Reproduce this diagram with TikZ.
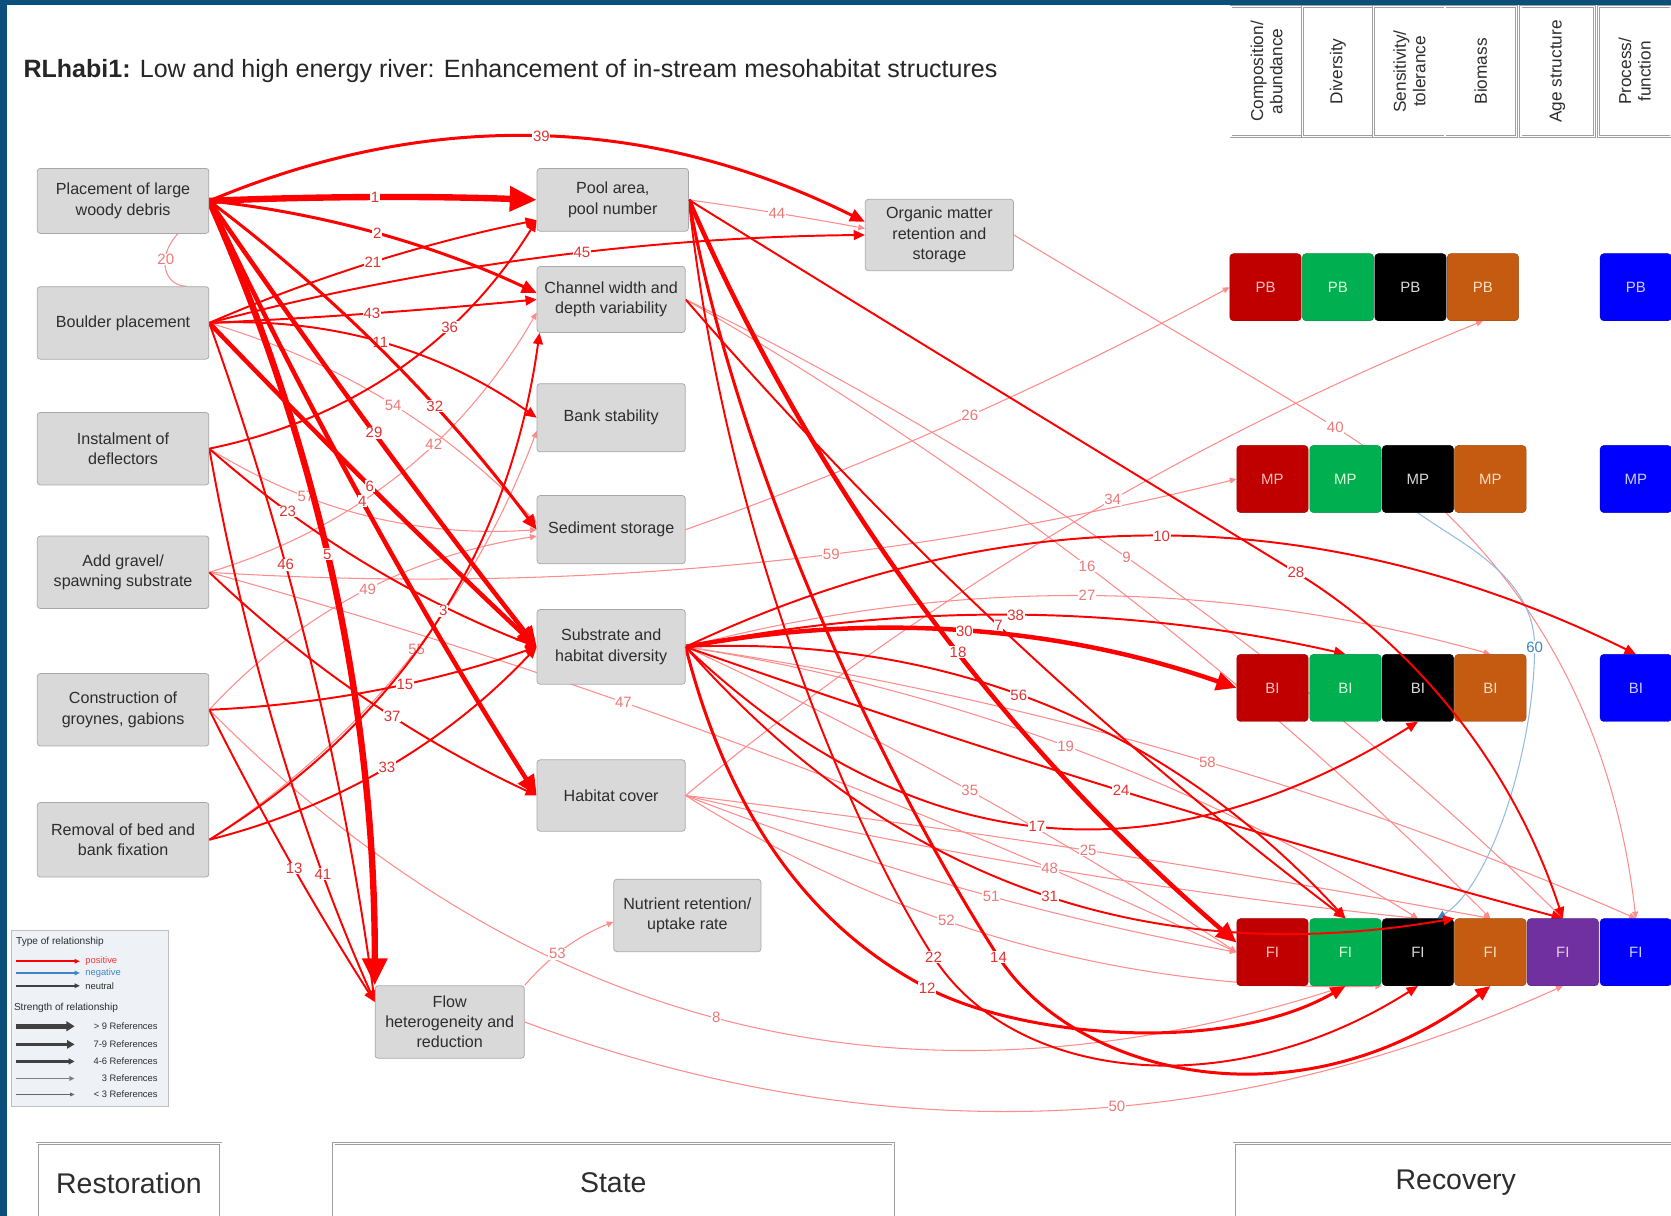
\documentclass[tikz,border=0pt]{standalone}
\usepackage{fontspec}
\setmainfont{Liberation Sans}
\usetikzlibrary{arrows.meta,calc}
\pgfdeclarelayer{bg}
\pgfsetlayers{bg,main}
\definecolor{frameblue}{RGB}{11,79,124}
\definecolor{boxfill}{RGB}{217,217,217}
\definecolor{boxline}{RGB}{168,168,168}
\definecolor{txt}{RGB}{45,45,45}
\definecolor{labred}{RGB}{225,50,50}
\definecolor{labpale}{RGB}{236,120,120}
\definecolor{cR}{RGB}{192,0,0}
\definecolor{cG}{RGB}{0,176,80}
\definecolor{cK}{RGB}{0,0,0}
\definecolor{cO}{RGB}{197,90,17}
\definecolor{cP}{RGB}{112,48,160}
\definecolor{cB}{RGB}{0,0,255}
\definecolor{negblue}{RGB}{61,133,198}
\definecolor{legbg}{RGB}{238,242,247}
\tikzset{
 gbox/.style={draw=boxline, fill=boxfill, rounded corners=4pt, line width=1pt, text=txt, align=center, font=\fontsize{21.5}{27}\selectfont, inner sep=0pt},
 rec/.style 2 args={fill=#1, draw=#1!80!black, line width=0.6pt, rounded corners=5pt, minimum width=3.35cm, minimum height=3.15cm, inner sep=0pt, text=#2, font=\fontsize{20}{20}\selectfont},
 hdr/.style={draw=gray!75, double=white, double distance=2pt, line width=0.7pt, minimum height=6.1cm, inner sep=0pt},
 hdrtext/.style={rotate=90, align=center, text=txt, font=\fontsize{23}{26}\selectfont},
 lab/.style={fill=white, inner sep=0.8pt, font=\fontsize{20}{20}\selectfont},
 e1/.style={draw=red!45, text=labpale, line width=1.4pt, -{Triangle[length=9pt,width=8pt]}},
 e2/.style={draw=red, text=labred, line width=2.6pt, -{Triangle[length=15pt,width=13pt]}},
 e3/.style={draw=red, text=labred, line width=4pt, -{Triangle[length=20pt,width=17pt]}},
 e4/.style={draw=red, text=labred, line width=6pt, -{Triangle[length=27pt,width=24pt]}},
 e5/.style={draw=red, text=labred, line width=8.5pt, -{Triangle[length=36pt,width=32pt]}},
 eneg/.style={draw=negblue!55, text=negblue, line width=1.4pt, -{Triangle[length=11pt,width=10pt,fill=negblue,color=negblue]}},
 legt/.style={text=txt, font=\fontsize{13.5}{15}\selectfont, inner sep=0pt},
 legi/.style={text=txt, font=\fontsize{12.5}{14}\selectfont, inner sep=0pt},
 big/.style={text=txt, font=\fontsize{38}{40}\selectfont},
 bbox/.style={draw=gray!75, double=white, double distance=2.5pt, line width=0.8pt}
}
% quadratic connector through a label point (as a cubic)
\newcommand\myedge[5]{%
 \path #2; \pgfgetlastxy{\edSx}{\edSy}%
 \path #3; \pgfgetlastxy{\edTx}{\edTy}%
 \path #4; \pgfgetlastxy{\edLx}{\edLy}%
 \pgfmathsetmacro\edax{\edSx/100}\pgfmathsetmacro\eday{\edSy/100}%
 \pgfmathsetmacro\edbx{\edTx/100}\pgfmathsetmacro\edby{\edTy/100}%
 \pgfmathsetmacro\edcx{\edLx/100}\pgfmathsetmacro\edcy{\edLy/100}%
 \pgfmathsetmacro\eddx{\edbx-\edax}\pgfmathsetmacro\eddy{\edby-\eday}%
 \pgfmathsetmacro\edt{((\edcx-\edax)*\eddx+(\edcy-\eday)*\eddy)/(\eddx*\eddx+\eddy*\eddy)}%
 \pgfmathsetmacro\edt{min(max(\edt,0.25),0.75)}%
 \pgfmathsetmacro\edu{1-\edt}%
 \pgfmathsetmacro\edQx{(\edcx-\edu*\edu*\edax-\edt*\edt*\edbx)/(2*\edt*\edu)}%
 \pgfmathsetmacro\edQy{(\edcy-\edu*\edu*\eday-\edt*\edt*\edby)/(2*\edt*\edu)}%
 \pgfmathsetmacro\edPx{100*(\edax+2*(\edQx-\edax)/3)}%
 \pgfmathsetmacro\edPy{100*(\eday+2*(\edQy-\eday)/3)}%
 \pgfmathsetmacro\edRx{100*(\edbx+2*(\edQx-\edbx)/3)}%
 \pgfmathsetmacro\edRy{100*(\edby+2*(\edQy-\edby)/3)}%
 \draw[#1] #2 .. controls (\edPx pt,\edPy pt) and (\edRx pt,\edRy pt) .. #3 node[lab,pos=\edt]{#5};%
}
\begin{document}
\begin{tikzpicture}[x=0.05cm,y=-0.05cm]
\path[use as bounding box] (0,0) rectangle (1568,1141);
\begin{pgfonlayer}{bg}
\fill[white] (0,0) rectangle (1568,1141);
\end{pgfonlayer}
\clip (0,0) rectangle (1568,1141);

% title
\node[anchor=west, inner sep=0pt, text=black!85, font=\fontsize{33.4}{37}\selectfont] (title) at (22,67) {\textbf{RLhabi1:} Low and high energy river: Enhancement of in-stream mesohabitat structures};

% header cells
\node[hdr, minimum width=3.35cm] (h1) at (1188.5,67) {};
\node[hdr, minimum width=3.35cm] (h2) at (1255.5,67) {};
\node[hdr, minimum width=3.35cm] (h3) at (1322.5,67) {};
\node[hdr, minimum width=3.35cm] (h4) at (1389.5,67) {};
\node[hdr, minimum width=3.45cm] (h5) at (1461.5,67) {};
\node[hdr, minimum width=3.4cm] (h6) at (1534,67) {};
\node[hdrtext] at (h1) {Composition/\\abundance};
\node[hdrtext] at (h2) {Diversity};
\node[hdrtext] at (h3) {Sensitivity/\\tolerance};
\node[hdrtext] at (h4) {Biomass};
\node[hdrtext] at (h5) {Age structure};
\node[hdrtext] at (h6) {Process/\\function};

% restoration nodes
\node[gbox, minimum width=8.05cm, minimum height=3.05cm] (lwd) at (115.5,188.5) {Placement of large\\woody debris};
\node[gbox, minimum width=8.05cm, minimum height=3.4cm] (boul) at (115.5,303) {Boulder placement};
\node[gbox, minimum width=8.05cm, minimum height=3.4cm] (inst) at (115.5,421) {Instalment of\\deflectors};
\node[gbox, minimum width=8.05cm, minimum height=3.4cm] (grav) at (115.5,537) {Add gravel/\\spawning substrate};
\node[gbox, minimum width=8.05cm, minimum height=3.4cm] (groy) at (115.5,666) {Construction of\\groynes, gabions};
\node[gbox, minimum width=8.05cm, minimum height=3.5cm] (remv) at (115.5,788) {Removal of bed and\\bank fixation};

% state nodes
\node[gbox, minimum width=7.1cm, minimum height=2.95cm] (pool) at (575,187.5) {Pool area,\\pool number};
\node[gbox, minimum width=6.95cm, minimum height=3.1cm] (chan) at (573.5,281) {Channel width and\\depth variability};
\node[gbox, minimum width=6.95cm, minimum height=3.2cm] (bank) at (573.5,392) {Bank stability};
\node[gbox, minimum width=6.95cm, minimum height=3.2cm] (sedi) at (573.5,497) {Sediment storage};
\node[gbox, minimum width=6.95cm, minimum height=3.5cm] (subs) at (573.5,607) {Substrate and\\habitat diversity};
\node[gbox, minimum width=6.95cm, minimum height=3.35cm] (hcov) at (573.5,746.5) {Habitat cover};
\node[gbox, minimum width=6.95cm, minimum height=3.35cm] (orgm) at (881.5,220.5) {Organic matter\\retention and\\storage};
\node[gbox, minimum width=6.9cm, minimum height=3.4cm] (nutr) at (645,859) {Nutrient retention/\\uptake rate};
\node[gbox, minimum width=7.0cm, minimum height=3.4cm] (flow) at (422,959) {Flow\\heterogeneity and\\reduction};

% recovery boxes
\node[rec={cR}{red!25}] (PBr) at (1187.5,269.5) {PB};
\node[rec={cG}{green!15}] (PBg) at (1255.5,269.5) {PB};
\node[rec={cK}{white!85!black}] (PBk) at (1323.5,269.5) {PB};
\node[rec={cO}{orange!25}] (PBo) at (1391.5,269.5) {PB};
\node[rec={cB}{blue!20}] (PBb) at (1535,269.5) {PB};

\node[rec={cR}{red!25}] (MPr) at (1194,449.5) {MP};
\node[rec={cG}{green!15}] (MPg) at (1262.5,449.5) {MP};
\node[rec={cK}{white!85!black}] (MPk) at (1330.5,449.5) {MP};
\node[rec={cO}{orange!25}] (MPo) at (1398.5,449.5) {MP};
\node[rec={cB}{blue!20}] (MPb) at (1535,449.5) {MP};

\node[rec={cR}{red!25}] (BIr) at (1194,645.5) {BI};
\node[rec={cG}{green!15}] (BIg) at (1262.5,645.5) {BI};
\node[rec={cK}{white!85!black}] (BIk) at (1330.5,645.5) {BI};
\node[rec={cO}{orange!25}] (BIo) at (1398.5,645.5) {BI};
\node[rec={cB}{blue!20}] (BIb) at (1535,645.5) {BI};

\node[rec={cR}{red!25}] (FIr) at (1194,893.5) {FI};
\node[rec={cG}{green!15}] (FIg) at (1262.5,893.5) {FI};
\node[rec={cK}{white!85!black}] (FIk) at (1330.5,893.5) {FI};
\node[rec={cO}{orange!25}] (FIo) at (1398.5,893.5) {FI};
\node[rec={cP}{violet!20}] (FIp) at (1466.5,893.5) {FI};
\node[rec={cB}{blue!20}] (FIb) at (1535,893.5) {FI};

% connectors (behind the boxes)
\begin{pgfonlayer}{bg}
\myedge{e1}{(boul.east)}{(sedi.175)}{(369,380)}{54}
\myedge{e1}{(grav.east)}{(chan.190)}{(407,417)}{42}
\myedge{e1}{(groy.east)}{(sedi.185)}{(345,553)}{49}
\myedge{e1}{(remv.east)}{(bank.190)}{(391,609)}{55}
\myedge{e1}{(inst.east)}{(sedi.west)}{(287,466)}{57}
\myedge{e1}{(grav.east)}{(MPr.west)}{(780,520)}{59}
\myedge{e1}{(grav.east)}{(FIr.west)}{(585,659)}{47}
\myedge{e1}{(groy.east)}{(FIg.south)}{(672,955)}{8}
\myedge{e1}{(pool.east)}{(orgm.175)}{(729,200)}{44}
\myedge{e1}{(chan.east)}{(FIo.north)}{(1020,531)}{16}
\myedge{e1}{(chan.east)}{(FIp.north)}{(1057,523)}{9}
\myedge{e1}{(sedi.east)}{(PBr.west)}{(910,390)}{26}
\myedge{e1}{(subs.east)}{(BIo.north)}{(1020,559)}{27}
\myedge{e1}{(subs.east)}{(FIk.north)}{(1000,700)}{19}
\myedge{e1}{(subs.east)}{(FIb.north)}{(1133,715)}{58}
\myedge{e1}{(subs.east)}{(FIr.west)}{(910,742)}{35}
\myedge{e1}{(hcov.east)}{(FIo.north)}{(1021,798)}{25}
\myedge{e1}{(hcov.east)}{(FIk.north)}{(985,815)}{48}
\myedge{e1}{(hcov.east)}{(FIr.west)}{(930,841)}{51}
\myedge{e1}{(hcov.east)}{(FIk.south west)}{(888,864)}{52}
\myedge{e1}{(hcov.east)}{(PBo.south)}{(1044,469)}{34}
\myedge{e1}{(flow.north east)}{(nutr.185)}{(523,895)}{53}
\myedge{e1}{(flow.east)}{(FIp.south)}{(1048,1038)}{50}
\draw[e1] (boul.30) .. controls (148,268) and (143,225) .. (lwd.-8) node[lab,pos=0.5]{20};
\draw[e1] (orgm.east) .. controls (1050,280) and (1180,356) .. (1253,401) node[lab]{40} .. controls (1400,492) and (1510,640) .. (FIb.north);
\draw[eneg] (MPk.south) .. controls (1370,510) and (1440,540) .. (1440,607) node[lab]{60} .. controls (1440,700) and (1400,830) .. (FIk.60);

\myedge{e2}{(boul.east)}{(pool.195)}{(350,246)}{21}
\myedge{e2}{(boul.east)}{(chan.west)}{(349,294)}{43}
\myedge{e2}{(boul.east)}{(orgm.west)}{(546,237)}{45}
\myedge{e2}{(boul.east)}{(bank.west)}{(357,321)}{11}
\myedge{e2}{(boul.east)}{(flow.165)}{(268,530)}{46}
\myedge{e2}{(inst.east)}{(pool.195)}{(422,307)}{36}
\myedge{e2}{(inst.east)}{(subs.west)}{(270,480)}{23}
\myedge{e2}{(inst.east)}{(flow.165)}{(303,820)}{41}
\myedge{e2}{(grav.east)}{(hcov.west)}{(368,672)}{37}
\myedge{e2}{(groy.east)}{(subs.west)}{(380,642)}{15}
\myedge{e2}{(groy.east)}{(flow.165)}{(276,815)}{13}
\myedge{e2}{(remv.east)}{(chan.205)}{(416,573)}{3}
\myedge{e2}{(remv.east)}{(subs.west)}{(363,720)}{33}
\myedge{e2}{(chan.east)}{(FIg.north)}{(937,587)}{7}
\myedge{e2}{(subs.east)}{(BIb.north)}{(1090,503)}{10}
\myedge{e2}{(subs.east)}{(BIg.north)}{(953,577)}{38}
\myedge{e2}{(subs.east)}{(BIk.south)}{(973,775)}{17}
\myedge{e2}{(subs.east)}{(FIp.north)}{(1052,742)}{24}
\myedge{e2}{(subs.east)}{(FIg.north)}{(956,652)}{56}
\draw[e2] (pool.east) .. controls (680,500) and (800,780) .. (876,898) node[lab]{22} .. controls (950,1013) and (1150,1040) .. (FIk.south);

\myedge{e3}{(lwd.east)}{(chan.175)}{(354,219)}{2}
\myedge{e3}{(lwd.east)}{(orgm.170)}{(508,128)}{39}
\myedge{e3}{(lwd.east)}{(sedi.west)}{(408,381)}{32}
\draw[e3] (pool.east) .. controls (700,480) and (860,780) .. (937,898) node[lab]{14} .. controls (1010,1010) and (1220,1060) .. (FIo.south);
\draw[e3] (subs.east) .. controls (690,790) and (780,880) .. (870,927) node[lab]{12} .. controls (960,974) and (1150,990) .. (FIg.south);

\myedge{e4}{(lwd.east)}{(subs.west)}{(351,406)}{29}
\myedge{e4}{(lwd.east)}{(hcov.west)}{(340,470)}{4}
\myedge{e4}{(boul.east)}{(subs.west)}{(347,456)}{6}
\myedge{e4}{(pool.east)}{(FIr.165)}{(899,612)}{18}
\myedge{e4}{(subs.east)}{(BIr.west)}{(905,592)}{30}

\myedge{e5}{(lwd.east)}{(flow.north west)}{(307,520)}{5}
\myedge{e5}{(lwd.east)}{(pool.west)}{(352,185)}{1}
\end{pgfonlayer}

% connectors drawn over the recovery boxes
\draw[e2] (pool.east) .. controls (850,314) and (1100,466) .. (1216,537) node[lab]{28} .. controls (1330,607) and (1420,720) .. (FIp.north);
\myedge{e2}{(subs.east)}{(FIo.north west)}{(985,841)}{31}

% legend
\node[draw=gray!50, fill=legbg, anchor=north west, minimum width=7.4cm, minimum height=8.25cm, inner sep=0pt] (leg) at (10,873) {};
\node[legt, anchor=west] (legA) at (15,884) {Type of relationship};
\draw[line width=2.2pt, red, -{Triangle[length=7pt,width=6pt]}] (15,902) -- (75,902);
\node[legi, anchor=west, text=red!80] (legpos) at (80,902) {positive};
\draw[line width=2.2pt, negblue, -{Triangle[length=7pt,width=6pt]}] (15,913) -- (75,913);
\node[legi, anchor=west, text=negblue] (legneg) at (80,913) {negative};
\draw[line width=2.2pt, black!75, -{Triangle[length=7pt,width=6pt]}] (15,925) -- (75,925);
\node[legi, anchor=west] (legneu) at (80,925) {neutral};
\node[legt, anchor=west] (legB) at (13,946) {Strength of relationship};
\draw[line width=6pt, black!75, -{Triangle[length=11pt,width=13pt]}] (15,963) -- (70,963);
\node[legi, anchor=east] (s1) at (148,963) {> 9 References};
\draw[line width=4.5pt, black!75, -{Triangle[length=10pt,width=11pt]}] (15,980) -- (70,980);
\node[legi, anchor=east] (s2) at (148,980) {7-9 References};
\draw[line width=3pt, black!75, -{Triangle[length=8pt,width=8pt]}] (15,996) -- (70,996);
\node[legi, anchor=east] (s3) at (148,996) {4-6 References};
\draw[line width=2pt, black!50, -{Triangle[length=7pt,width=6pt]}] (15,1012) -- (70,1012);
\node[legi, anchor=east] (s4) at (148,1012) {3 References};
\draw[line width=1.2pt, black!60, -{Triangle[length=6pt,width=5pt]}] (15,1027) -- (70,1027);
\node[legi, anchor=east] (s5) at (148,1027) {< 3 References};

% bottom category boxes
\draw[bbox] (35,1073) rectangle (207,1170);
\node[big] (restlab) at (121,1110) {Restoration};
\draw[bbox] (313,1073) rectangle (838,1170);
\node[big] (statelab) at (575.5,1110) {State};
\draw[bbox] (1158,1073) rectangle (1590,1170);
\node[big] (reclab) at (1366,1110) {Recovery};

% frame
\fill[frameblue] (0,0) rectangle (1568,5);
\fill[frameblue] (0,0) rectangle (7,1141);
\end{tikzpicture}
\end{document}
